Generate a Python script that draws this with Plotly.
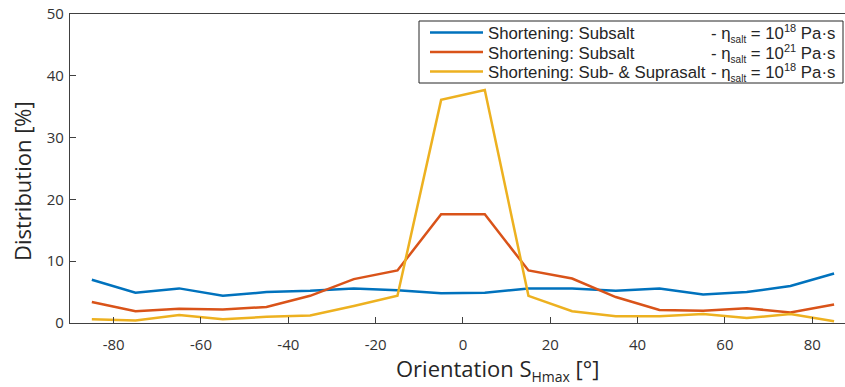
import plotly.graph_objects as go

# Orientation bins (centres, degrees)
orientation = [-85, -75, -65, -55, -45, -35, -25, -15, -5, 5, 15, 25, 35, 45, 55, 65, 75, 85]

# Distribution of SHmax orientation per model [%]
subsalt_18 = [7.0, 4.9, 5.6, 4.4, 5.0, 5.2, 5.6, 5.3, 4.8, 4.9, 5.6, 5.6, 5.2, 5.6, 4.6, 5.0, 6.0, 8.0]
subsalt_21 = [3.4, 1.9, 2.3, 2.2, 2.6, 4.4, 7.1, 8.5, 17.6, 17.6, 8.5, 7.2, 4.2, 2.1, 2.0, 2.4, 1.7, 3.0]
subsupra_18 = [0.6, 0.4, 1.3, 0.6, 1.0, 1.2, 2.75, 4.4, 36.1, 37.7, 4.4, 1.9, 1.1, 1.1, 1.45, 0.8, 1.45, 0.3]

y_ticks = [0, 10, 20, 30, 40, 50]
x_ticks = [-80, -60, -40, -20, 0, 20, 40, 60, 80]
x_tick_labels = ["-80", "-60", "-40", "-20", "0", "20", "40", "60", "80"]

models = ["Shortening: Subsalt", "Shortening: Subsalt", "Shortening: Sub- &amp; Suprasalt"]
viscosity_exp = [18, 21, 18]
colors = ["#0072BD", "#D95319", "#EDB120"]
series = [subsalt_18, subsalt_21, subsupra_18]

W, H = 845, 387
ML, MR, MT, MB = 70, 0, 14, 64
PW, PH = W - ML - MR, H - MT - MB


def px(x):
    return (x - ML) / PW


def py(y):
    return (H - MB - y) / PH


fig = go.Figure()
for name, col, vals in zip(models, colors, series):
    fig.add_trace(go.Scatter(x=orientation, y=vals, mode="lines", name=name,
                             showlegend=False, line=dict(color=col, width=2.5)))

axis_col = "#404040"
text_col = "#262626"
tick_font = dict(family="Open Sans", size=15, color="#333333")
leg_font = dict(family="Liberation Sans", size=16.8, color=text_col)

# Legend: framed box with line keys and two text columns
shapes = [dict(type="rect", xref="paper", yref="paper",
               x0=px(419), x1=px(843), y0=py(83), y1=py(21),
               line=dict(color=text_col, width=1), fillcolor="white", layer="above")]
annotations = []
row_y = [32.5, 52, 71.5]
for ry, col, name, ex in zip(row_y, colors, models, viscosity_exp):
    shapes.append(dict(type="line", xref="paper", yref="paper",
                       x0=px(430), x1=px(483), y0=py(ry), y1=py(ry),
                       line=dict(color=col, width=2.5), layer="above"))
    annotations.append(dict(text=name, xref="paper", yref="paper",
                            x=px(486), y=py(ry + 1), xanchor="left", yanchor="middle",
                            showarrow=False, font=leg_font))
    annotations.append(dict(
        text=("- η<sub><span style='font-size:10px'>salt</span></sub> = 10"
              f"<sup><span style='font-size:11px'>{ex}</span></sup> Pa·s"),
        xref="paper", yref="paper",
        x=px(709), y=py(ry + 1), xanchor="left", yanchor="middle",
        showarrow=False, font=leg_font))

annotations += [
    dict(text="Orientation S<sub><span style='font-size:14px'>Hmax</span></sub> [°]",
         xref="paper", yref="paper",
         x=px(497), y=py(351), xanchor="center", yanchor="top",
         showarrow=False, font=dict(family="Open Sans", size=22, color=text_col)),
    dict(text="Distribution [%]", xref="paper", yref="paper", textangle=-90,
         x=px(22), y=py(181), xanchor="center", yanchor="middle",
         showarrow=False, font=dict(family="Open Sans", size=22, color=text_col)),
]

fig.update_layout(
    width=W, height=H,
    margin=dict(l=ML, r=MR, t=MT, b=MB),
    paper_bgcolor="white", plot_bgcolor="white",
    showlegend=False,
    xaxis=dict(range=[-90, 87.5], tickvals=x_ticks, ticktext=x_tick_labels,
               ticks="inside", ticklen=6,
               tickcolor=axis_col, showline=True, linecolor=axis_col, linewidth=1.3,
               mirror=True, showgrid=False, zeroline=False, tickfont=tick_font,
               ticklabelstandoff=8),
    yaxis=dict(range=[0, 50], tickvals=y_ticks, ticks="inside", ticklen=6,
               tickcolor=axis_col, showline=True, linecolor=axis_col, linewidth=1.3,
               showgrid=False, zeroline=False, tickfont=tick_font,
               ticklabelstandoff=2),
    shapes=shapes,
    annotations=annotations,
)

fig.write_html("out.html")
